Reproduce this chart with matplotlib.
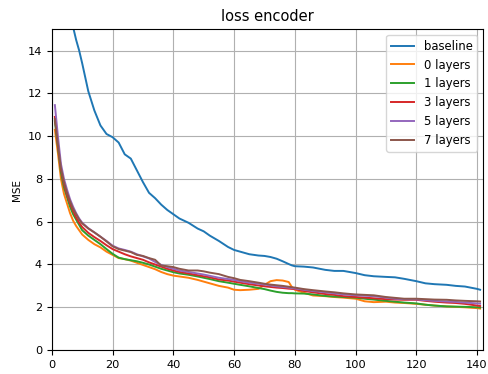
import matplotlib
matplotlib.use("Agg")
import matplotlib.pyplot as plt

epochs = [1, 2, 3, 4, 5, 6, 7, 8, 9, 10, 12, 14, 16, 18, 20, 22, 24, 26, 28, 30,
          32, 34, 36, 38, 40, 42, 45, 48, 50, 52, 55, 58, 60, 62, 65, 68, 70, 72,
          74, 76, 78, 79, 80, 83, 86, 90, 93, 96, 100, 103, 106, 110, 113, 116,
          120, 123, 126, 130, 133, 136, 140, 141]

baseline = [24.0, 21.5, 19.6, 18.1, 16.9, 15.9, 15.1, 14.5, 14.0, 13.4, 12.1, 11.2,
            10.5, 10.1, 9.95, 9.7, 9.15, 8.95, 8.4, 7.85, 7.35, 7.1, 6.8, 6.55,
            6.35, 6.15, 5.95, 5.68, 5.55, 5.35, 5.1, 4.82, 4.68, 4.6, 4.48, 4.42,
            4.4, 4.35, 4.27, 4.15, 4.02, 3.96, 3.92, 3.9, 3.86, 3.75, 3.7, 3.7,
            3.6, 3.5, 3.45, 3.42, 3.4, 3.33, 3.22, 3.12, 3.08, 3.05, 3.0, 2.97,
            2.86, 2.82]

layers0 = [10.3, 9.2, 8.0, 7.3, 6.85, 6.4, 6.05, 5.8, 5.6, 5.4, 5.15, 4.95, 4.8,
           4.6, 4.45, 4.3, 4.25, 4.18, 4.08, 3.98, 3.88, 3.78, 3.65, 3.55, 3.48,
           3.44, 3.38, 3.28, 3.2, 3.12, 3.0, 2.92, 2.82, 2.8, 2.82, 2.86, 3.05,
           3.22, 3.27, 3.25, 3.18, 2.95, 2.82, 2.68, 2.55, 2.52, 2.48, 2.45, 2.4,
           2.28, 2.24, 2.26, 2.22, 2.2, 2.16, 2.12, 2.08, 2.04, 2.02, 2.0, 1.96,
           1.94]

layers1 = [10.7, 9.5, 8.3, 7.6, 7.15, 6.7, 6.35, 6.1, 5.85, 5.6, 5.35, 5.15, 4.95,
           4.72, 4.5, 4.32, 4.25, 4.2, 4.15, 4.08, 4.0, 3.9, 3.8, 3.72, 3.64,
           3.58, 3.52, 3.44, 3.38, 3.32, 3.22, 3.15, 3.1, 3.05, 2.98, 2.9, 2.85,
           2.78, 2.72, 2.68, 2.66, 2.66, 2.65, 2.64, 2.6, 2.53, 2.5, 2.48, 2.45,
           2.4, 2.36, 2.3, 2.26, 2.22, 2.18, 2.12, 2.08, 2.04, 2.03, 2.02, 2.0,
           1.99]

layers3 = [10.9, 9.6, 8.45, 7.75, 7.25, 6.85, 6.5, 6.2, 5.95, 5.75, 5.48, 5.28,
           5.1, 4.9, 4.72, 4.6, 4.48, 4.38, 4.3, 4.22, 4.1, 4.0, 3.9, 3.8, 3.72,
           3.65, 3.58, 3.5, 3.45, 3.4, 3.3, 3.25, 3.2, 3.15, 3.08, 3.02, 2.98,
           2.95, 2.92, 2.9, 2.87, 2.86, 2.85, 2.76, 2.7, 2.62, 2.58, 2.52, 2.48,
           2.45, 2.42, 2.38, 2.36, 2.35, 2.35, 2.3, 2.26, 2.22, 2.2, 2.16, 2.08,
           2.06]

layers5 = [11.45, 10.0, 8.7, 8.0, 7.5, 7.05, 6.7, 6.4, 6.15, 5.95, 5.7, 5.5, 5.3,
           5.1, 4.88, 4.75, 4.68, 4.6, 4.48, 4.38, 4.28, 4.12, 3.98, 3.88, 3.8,
           3.72, 3.65, 3.58, 3.53, 3.47, 3.38, 3.32, 3.28, 3.22, 3.15, 3.1, 3.06,
           3.02, 2.98, 2.95, 2.92, 2.9, 2.88, 2.82, 2.76, 2.7, 2.65, 2.6, 2.56,
           2.54, 2.52, 2.45, 2.4, 2.38, 2.37, 2.33, 2.3, 2.27, 2.25, 2.22, 2.18,
           2.17]

layers7 = [10.8, 9.6, 8.5, 7.85, 7.35, 6.95, 6.6, 6.35, 6.1, 5.92, 5.68, 5.5, 5.3,
           5.08, 4.85, 4.72, 4.65, 4.58, 4.45, 4.4, 4.3, 4.22, 3.95, 3.92, 3.88,
           3.8, 3.72, 3.72, 3.68, 3.62, 3.55, 3.42, 3.36, 3.28, 3.22, 3.15, 3.1,
           3.06, 3.03, 3.0, 2.96, 2.94, 2.92, 2.85, 2.8, 2.74, 2.7, 2.65, 2.6,
           2.58, 2.56, 2.48, 2.44, 2.4, 2.4, 2.38, 2.36, 2.35, 2.32, 2.3, 2.28,
           2.27]

series = [("baseline", baseline), ("0 layers", layers0), ("1 layers", layers1),
          ("3 layers", layers3), ("5 layers", layers5), ("7 layers", layers7)]

fig, ax = plt.subplots(figsize=(4.89, 3.74), dpi=100)
fig.subplots_adjust(left=0.106, right=0.988, top=0.922, bottom=0.064)

for name, vals in series:
    ax.plot(epochs, vals, label=name, linewidth=1.4)

ax.set_xlim(0, 142)
ax.set_ylim(0, 15)
ax.set_xticks(range(0, 141, 20))
ax.set_yticks(range(0, 15, 2))
ax.tick_params(labelsize=8.2)
ax.grid(True)
ax.set_title("loss encoder", fontsize=10.5)
ax.set_ylabel("MSE", fontsize=7.5)
ax.legend(loc="upper right", fontsize=8.4)

fig.savefig("out.png", dpi=100)
